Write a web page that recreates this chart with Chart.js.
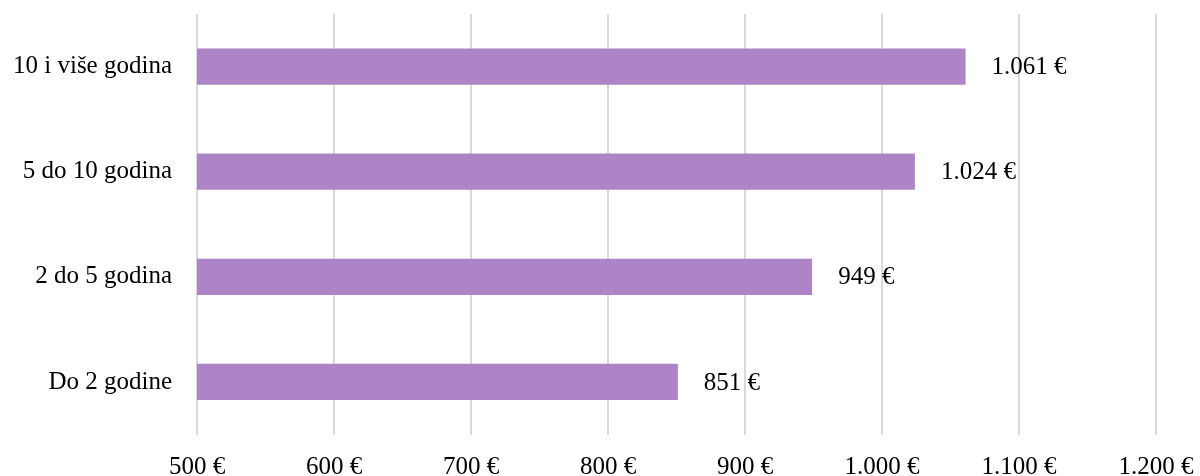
<!DOCTYPE html>
<html>
<head>
<meta charset="utf-8">
<script src="https://cdn.jsdelivr.net/npm/chart.js@4"></script>
<style>
  html, body { margin: 0; padding: 0; background: #fff; overflow: hidden; }
</style>
</head>
<body>
<canvas id="myChart" width="1200" height="490"></canvas>
<script>
// data
var categories = ['10 i više godina', '5 do 10 godina', '2 do 5 godina', 'Do 2 godine'];
var values = [1061, 1024, 949, 851];
var xMin = 500;
var xMax = 1200;
var xStep = 100;

function euro(v) {
    return v.toLocaleString('de-DE') + ' €';
}

var fontFamily = '"Liberation Serif", "DejaVu Serif", serif';

// value labels after each bar
var valueLabels = {
    id: 'valueLabels',
    afterDatasetsDraw: function (chart) {
        var ctx = chart.ctx;
        var meta = chart.getDatasetMeta(0);
        ctx.save();
        ctx.font = '25px ' + fontFamily;
        ctx.fillStyle = '#000';
        ctx.textAlign = 'left';
        ctx.textBaseline = 'middle';
        meta.data.forEach(function (bar, i) {
            ctx.fillText(euro(values[i]), bar.x + 26, bar.y + 1);
        });
        ctx.restore();
    }
};

var ctx = document.getElementById('myChart').getContext('2d');
var myChart = new Chart(ctx, {
    type: 'bar',
    data: {
        labels: categories,
        datasets: [{
            data: values,
            backgroundColor: '#AD85C6',
            barPercentage: 0.345,
            categoryPercentage: 1
        }]
    },
    options: {
        indexAxis: 'y',
        responsive: false,
        animation: false,
        layout: { padding: { top: 14, right: 44, bottom: 9, left: 0 } },
        plugins: {
            legend: { display: false },
            tooltip: { enabled: false }
        },
        scales: {
            x: {
                min: xMin,
                max: xMax,
                ticks: {
                    stepSize: xStep,
                    padding: 0,
                    color: '#000',
                    font: { family: fontFamily, size: 25, lineHeight: 1.1 },
                    callback: function (v) { return euro(v); }
                },
                grid: { color: '#D9D9D9', lineWidth: 2, drawTicks: true, tickLength: 19, tickColor: 'rgba(0,0,0,0)' },
                border: { display: false }
            },
            y: {
                ticks: {
                    padding: 0,
                    color: '#000',
                    font: { family: fontFamily, size: 25, lineHeight: 1.1 }
                },
                grid: { display: true, drawOnChartArea: false, tickLength: 25, tickColor: 'rgba(0,0,0,0)' },
                border: { display: false },
                afterFit: function (scale) { scale.width = 197; }
            }
        }
    },
    plugins: [valueLabels]
});
</script>
</body>
</html>
